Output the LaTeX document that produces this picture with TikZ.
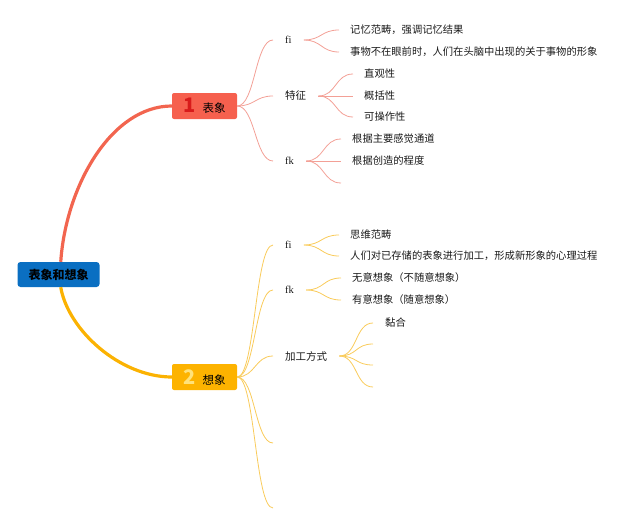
\documentclass[tikz,border=0pt]{standalone}
\usepackage{fontspec}
\setmainfont{Noto Sans CJK SC}
\newfontfamily\latserif{Liberation Serif}
\definecolor{rootblue}{HTML}{0A6FC2}
\definecolor{redbox}{HTML}{F6604E}
\definecolor{redthick}{HTML}{F2654F}
\definecolor{redthin}{HTML}{F3A096}
\definecolor{numred}{HTML}{D81B1B}
\definecolor{yelbox}{HTML}{FDB300}
\definecolor{yelthick}{HTML}{FBB202}
\definecolor{yelthin}{HTML}{F9CB5A}
\definecolor{numyel}{HTML}{FFE27A}
\definecolor{txt}{HTML}{1A1A1A}
\newcommand\branchcurve[3]{\draw[#1] (#2) .. controls +(18,0) and +(-18,0) .. (#3);}
\begin{document}
\begin{tikzpicture}[x=1pt,y=-1pt,
  rootbox/.style={rectangle, rounded corners=3pt, fill=rootblue, minimum width=82pt, minimum height=25pt, inner sep=0pt, font=\fontsize{12}{12}\selectfont\bfseries, text=black},
  topicbox/.style={rectangle, rounded corners=2pt, minimum width=65pt, minimum height=26pt, inner sep=0pt, font=\fontsize{11.5}{12}\selectfont, text=black},
  subnode/.style={anchor=west, inner xsep=12pt, inner ysep=1pt, font=\fontsize{10.5}{12}\selectfont, text=txt},
  leafnode/.style={anchor=west, inner xsep=11pt, inner ysep=1pt, font=\fontsize{10.3}{12}\selectfont, text=txt},
  rthin/.style={draw=redthin, line width=0.8pt},
  ythin/.style={draw=yelthin, line width=0.8pt}
]
\useasboundingbox (0,0) rectangle (640,527);

% main nodes
\node[rootbox] (root) at (58.5,274.5) {表象和想象};
\node[topicbox, fill=redbox] (b1) at (204.5,106) {{\fontsize{20}{20}\selectfont\bfseries\color{numred}1}\hspace{7pt}表象};
\node[topicbox, fill=yelbox] (b2) at (204.5,377) {{\fontsize{20}{20}\selectfont\bfseries\color{numyel}2}\hspace{7pt}想象};

% thick curves
\draw[redthick, line width=3.2pt] (root.80) .. controls (66,185) and (112,106) .. (b1.west);
\draw[yelthick, line width=3.2pt] (root.-80) .. controls (68,330) and (120,377) .. (b2.west);

% ---- red branch ----
\node[subnode] (fiA) at (273,40) {\latserif fi};
\node[subnode] (tz) at (273,96) {特征};
\node[subnode] (fkA) at (273,161) {\latserif fk};
\branchcurve{rthin}{b1.east}{fiA.west}
\branchcurve{rthin}{b1.east}{tz.west}
\branchcurve{rthin}{b1.east}{fkA.west}

\node[leafnode] (a1) at (339,30) {记忆范畴，强调记忆结果};
\node[leafnode] (a2) at (339,52) {事物不在眼前时，人们在头脑中出现的关于事物的形象};
\branchcurve{rthin}{fiA.east}{a1.west}
\branchcurve{rthin}{fiA.east}{a2.west}

\node[leafnode] (t1) at (353,74) {直观性};
\node[leafnode] (t2) at (353,96) {概括性};
\node[leafnode] (t3) at (353,117) {可操作性};
\branchcurve{rthin}{tz.east}{t1.west}
\branchcurve{rthin}{tz.east}{t2.west}
\branchcurve{rthin}{tz.east}{t3.west}

\node[leafnode] (k1) at (341,139) {根据主要感觉通道};
\node[leafnode] (k2) at (341,161) {根据创造的程度};
\coordinate (k3) at (341,183);
\branchcurve{rthin}{fkA.east}{k1.west}
\branchcurve{rthin}{fkA.east}{k2.west}
\branchcurve{rthin}{fkA.east}{k3}

% ---- yellow branch ----
\node[subnode] (fiB) at (273,245) {\latserif fi};
\node[subnode] (fkB) at (273,290) {\latserif fk};
\node[subnode] (jg) at (273,356) {加工方式};
\coordinate (e1) at (273,443);
\coordinate (e2) at (273,508);
\branchcurve{ythin}{b2.east}{fiB.west}
\branchcurve{ythin}{b2.east}{fkB.west}
\branchcurve{ythin}{b2.east}{jg.west}
\branchcurve{ythin}{b2.east}{e1}
\branchcurve{ythin}{b2.east}{e2}

\node[leafnode] (s1) at (339,235) {思维范畴};
\node[leafnode] (s2) at (339,256) {人们对已存储的表象进行加工，形成新形象的心理过程};
\branchcurve{ythin}{fiB.east}{s1.west}
\branchcurve{ythin}{fiB.east}{s2.west}

\node[leafnode] (w1) at (341,278) {无意想象（不随意想象）};
\node[leafnode] (w2) at (341,300) {有意想象（随意想象）};
\branchcurve{ythin}{fkB.east}{w1.west}
\branchcurve{ythin}{fkB.east}{w2.west}

\node[leafnode, inner xsep=12pt] (j1) at (373,323) {黏合};
\coordinate (j2) at (373,344);
\coordinate (j3) at (373,365);
\coordinate (j4) at (373,387);
\branchcurve{ythin}{jg.east}{j1.west}
\branchcurve{ythin}{jg.east}{j2}
\branchcurve{ythin}{jg.east}{j3}
\branchcurve{ythin}{jg.east}{j4}
\end{tikzpicture}
\end{document}
